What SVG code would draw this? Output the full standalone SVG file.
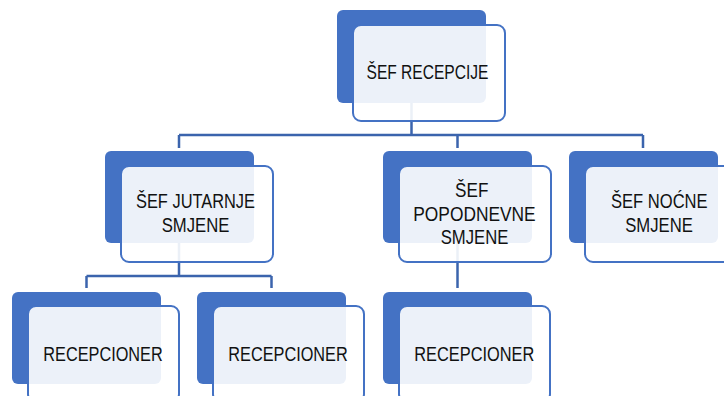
<svg xmlns="http://www.w3.org/2000/svg" width="724" height="396" viewBox="0 0 724 396">
<style>
.bk{fill:#4472c4}
.fr{fill:#ffffff;fill-opacity:0.9;stroke:#4472c4;stroke-width:2}
.cn{fill:none;stroke:#3b64ad;stroke-width:2.5}
text{font-family:"Liberation Sans",Arial,sans-serif;font-size:19.5px;fill:#111111;text-anchor:middle}
</style>
<rect width="724" height="396" fill="#ffffff"/>
<g id="connectors">
<path class="cn" d="M411.5,103V135M179,135H643M179,135V148M457.5,135V148M643,135V148"/>
<path class="cn" d="M179,243V276M86.5,276H271.5M86.5,276V288M271.5,276V288"/>
<path class="cn" d="M457.5,243V288"/>
</g>
<g id="n-sef-recepcije">
<rect class="bk" x="337" y="10" width="149" height="93" rx="6"/>
<rect class="fr" x="353" y="25" width="152" height="96" rx="8"/>
<text x="427.5" y="79" textLength="122" lengthAdjust="spacingAndGlyphs">ŠEF RECEPCIJE</text>
</g>
<g id="n-sef-jutarnje">
<rect class="bk" x="105" y="151" width="149" height="92" rx="6"/>
<rect class="fr" x="121" y="166" width="152" height="96" rx="8"/>
<text x="195.5" y="208.3" textLength="119" lengthAdjust="spacingAndGlyphs">ŠEF JUTARNJE</text>
<text x="195.5" y="232" textLength="67.7" lengthAdjust="spacingAndGlyphs">SMJENE</text>
</g>
<g id="n-sef-popodnevne">
<rect class="bk" x="383" y="151" width="149" height="92" rx="6"/>
<rect class="fr" x="399" y="166" width="152" height="96" rx="8"/>
<text x="471.7" y="197" textLength="33.3" lengthAdjust="spacingAndGlyphs">ŠEF</text>
<text x="474.5" y="220.7" textLength="122.4" lengthAdjust="spacingAndGlyphs">POPODNEVNE</text>
<text x="474.5" y="243.5" textLength="67.7" lengthAdjust="spacingAndGlyphs">SMJENE</text>
</g>
<g id="n-sef-nocne">
<rect class="bk" x="569" y="151" width="149" height="92" rx="6"/>
<rect class="fr" x="585" y="166" width="152" height="96" rx="8"/>
<text x="659.3" y="208.3" textLength="96.7" lengthAdjust="spacingAndGlyphs">ŠEF NOĆNE</text>
<text x="659" y="232" textLength="67.7" lengthAdjust="spacingAndGlyphs">SMJENE</text>
</g>
<g id="n-recepcioner-1">
<rect class="bk" x="12" y="292" width="149" height="92" rx="6"/>
<rect class="fr" x="28" y="306" width="151" height="96" rx="8"/>
<text x="103" y="360.7" textLength="119.4" lengthAdjust="spacingAndGlyphs">RECEPCIONER</text>
</g>
<g id="n-recepcioner-2">
<rect class="bk" x="197" y="292" width="149" height="92" rx="6"/>
<rect class="fr" x="213" y="306" width="151" height="96" rx="8"/>
<text x="288" y="360.7" textLength="119.4" lengthAdjust="spacingAndGlyphs">RECEPCIONER</text>
</g>
<g id="n-recepcioner-3">
<rect class="bk" x="383" y="292" width="149" height="92" rx="6"/>
<rect class="fr" x="399" y="306" width="151" height="96" rx="8"/>
<text x="474.3" y="360.7" textLength="120" lengthAdjust="spacingAndGlyphs">RECEPCIONER</text>
</g>
</svg>
